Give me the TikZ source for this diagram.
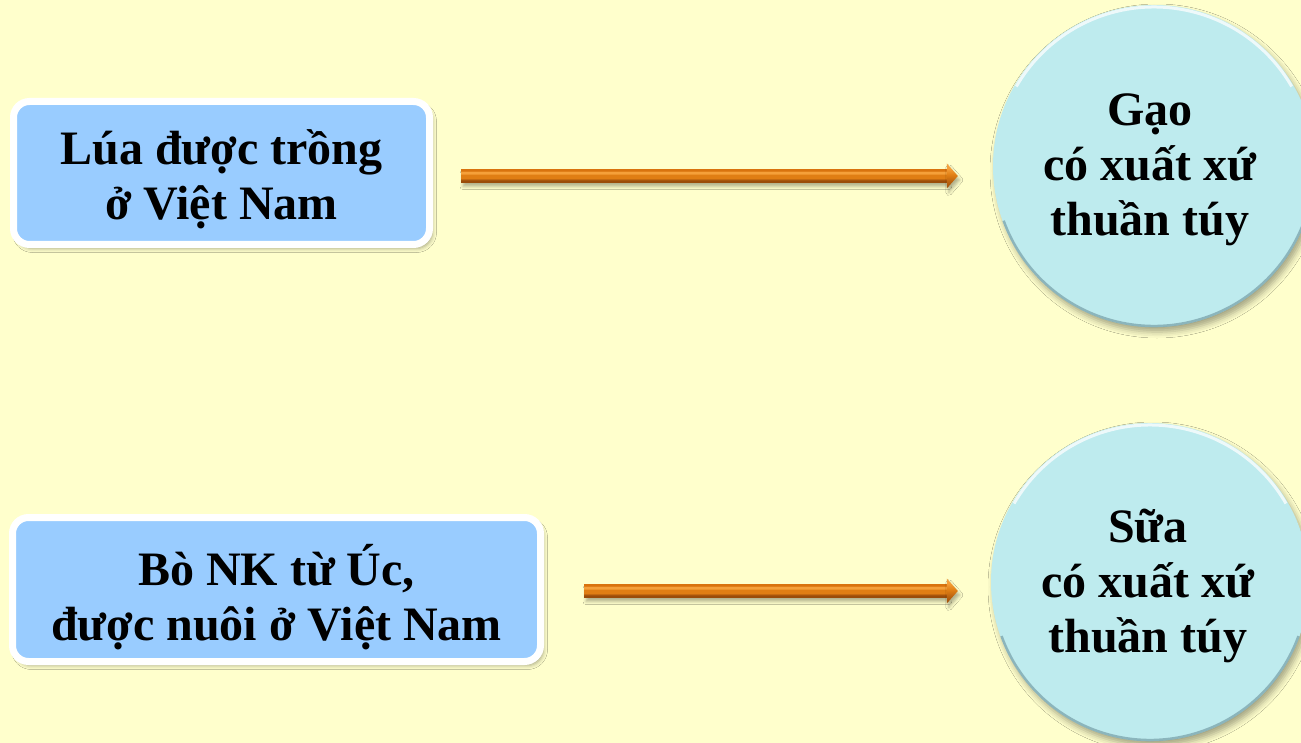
\documentclass[tikz,border=0pt]{standalone}
\usepackage{fontspec}
\setmainfont{Liberation Serif}
\usetikzlibrary{calc,shadows.blur}
\definecolor{bg}{HTML}{FFFFCC}
\definecolor{boxblue}{HTML}{99CCFF}
\definecolor{circ}{HTML}{BEEBEE}
\definecolor{circdark}{HTML}{7FA8B0}
\definecolor{ardark}{HTML}{9A4C0A}
\definecolor{armid}{HTML}{E07E14}
\definecolor{arlight}{HTML}{F5A03A}
\definecolor{aredge}{HTML}{D9730E}
\pgfdeclareverticalshading{arrowsh}{100bp}{color(0bp)=(ardark); color(25bp)=(ardark); color(33bp)=(ardark); color(42bp)=(armid); color(54bp)=(armid); color(60bp)=(arlight); color(67bp)=(arlight); color(70bp)=(aredge); color(100bp)=(aredge)}
\pgfdeclareverticalshading{headsh}{100bp}{color(0bp)=(ardark); color(25bp)=(ardark); color(40bp)=(ardark!50!armid); color(52bp)=(armid); color(66bp)=(arlight); color(100bp)=(arlight)}
\newcommand\fatarrow[2]{%
  \shade[shading=arrowsh, blur shadow={shadow xshift=2pt, shadow yshift=-4pt, shadow blur radius=3pt, shadow opacity=30}]
    ($(#1)+(0,-6.5)$) rectangle ($(#2)+(-11,6.5)$);
  \shade[shading=headsh, blur shadow={shadow xshift=2pt, shadow yshift=-4pt, shadow blur radius=3pt, shadow opacity=30}]
    (#2) -- ($(#2)+(-11,-12.5)$) -- ($(#2)+(-11,12.5)$) -- cycle;
}
\begin{document}
\begin{tikzpicture}[x=1pt,y=-1pt,
  txt/.style={font=\fontsize{48}{55}\selectfont\bfseries, align=center, text=black, inner sep=0pt},
  srcbox/.style={rectangle, rounded corners=16pt, fill=boxblue, draw=white, line width=7pt, inner sep=0pt,
    blur shadow={shadow xshift=3pt, shadow yshift=-4pt, shadow blur radius=4pt, shadow opacity=35}},
  goal/.style={circle, fill=circ, inner sep=0pt,
    blur shadow={shadow xshift=3pt, shadow yshift=-5pt, shadow blur radius=6pt, shadow opacity=35}},
  rimlight/.style={white, opacity=0.75, line width=3pt},
  rimdark/.style={circdark, opacity=0.8, line width=2.5pt}
]
\useasboundingbox (0,0) rectangle (1301,743);
\clip (0,0) rectangle (1301,743);
\fill[bg] (0,0) rectangle (1301,743);

\node[srcbox, minimum width=416pt, minimum height=143pt] (b1) at (221.5,173) {};
\node[srcbox, minimum width=528pt, minimum height=144pt] (b2) at (276.5,589.5) {};
\node[txt] (t1) at ($(b1.center)+(0,6)$) {Lúa được trồng\\ở Việt Nam};
\node[txt] (t2) at ($(b2.center)+(0,8)$) {Bò NK từ Úc,\\được nuôi ở Việt Nam};

\node[goal, minimum size=322pt] (c1) at (1154,166) {};
\node[goal, minimum size=318pt] (c2) at (1150,582) {};

\draw[rimlight] ([shift={(30:159pt)}]c1.center) arc (30:150:159pt);
\draw[rimdark] ([shift={(200:160pt)}]c1.center) arc (200:340:160pt);
\draw[rimlight] ([shift={(30:157pt)}]c2.center) arc (30:150:157pt);
\draw[rimdark] ([shift={(200:158pt)}]c2.center) arc (200:340:158pt);

\node[txt] (t3) at ($(c1.center)+(-4,4)$) {Gạo\\có xuất xứ\\thuần túy};
\node[txt] (t4) at ($(c2.center)+(-2,4)$) {Sữa\\có xuất xứ\\thuần túy};

\coordinate (a1s) at ($(b1.east)+(28,3)$);
\coordinate (a1e) at ($(c1.west |- a1s)+(-35,0)$);
\coordinate (a2s) at ($(b2.east)+(40,1.5)$);
\coordinate (a2e) at ($(c2.west |- a2s)+(-33,0)$);
\fatarrow{a1s}{a1e}
\fatarrow{a2s}{a2e}
\end{tikzpicture}
\end{document}
